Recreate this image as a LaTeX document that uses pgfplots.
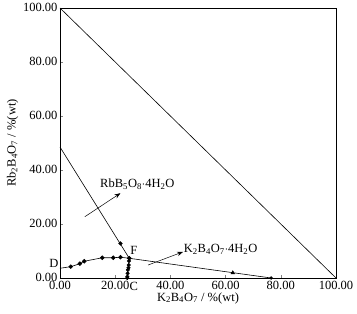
\documentclass[border=0pt]{standalone}
\usepackage{pgfplots}
\pgfplotsset{compat=1.18}
\usepackage{fontspec}
\setmainfont{Liberation Serif}
\usetikzlibrary{arrows.meta}
\begin{document}
\begin{tikzpicture}
\useasboundingbox (-60pt,-36pt) rectangle (297pt,278pt);
\begin{axis}[
  scale only axis, width=276pt, height=270pt,
  xmin=0, xmax=100, ymin=0, ymax=100,
  xtick={0,20,40,60,80,100}, ytick={0,20,40,60,80,100},
  tick align=inside, xtick pos=bottom, ytick pos=left,
  major tick length=3pt,
  /pgf/number format/assume math mode=true,
  /pgf/number format/.cd, fixed, fixed zerofill, precision=2, /pgfplots/.cd,
  tick label style={font=\fontsize{12.5}{13}\selectfont},
  xticklabel style={yshift=-1.5pt, inner ysep=1pt},
  yticklabel style={xshift=1pt, yshift=0.5pt, inner ysep=1pt},
  label style={font=\fontsize{12.5}{13}\selectfont},
  xlabel={K\textsubscript{2}B\textsubscript{4}O\textsubscript{7} / \%(wt)},
  ylabel={Rb\textsubscript{2}B\textsubscript{4}O\textsubscript{7} / \%(wt)},
  xlabel style={yshift=-1pt, inner ysep=1pt},
  ylabel style={yshift=-2pt},
  axis line style={line width=0.8pt},
  clip=false,
]
\addplot[black, mark=none, line width=0.6pt] coordinates {(0,100) (100,0)};
\addplot[black, line width=0.6pt, mark=*, mark size=1.9pt, mark indices={2,3,4,5,6,7,8}] coordinates {
 (0,3.6) (3.9,4.2) (7.2,5.3) (8.8,6.2) (15.3,7.5) (19.3,7.5) (21.9,7.7) (25.1,7.3)};
\addplot[black, line width=0.6pt, mark=*, mark size=1.7pt] coordinates {
 (25.1,7.3) (25.0,6.3) (24.9,4.8) (24.8,3.8) (24.6,3.0) (24.5,1.7) (24.4,0.5) (24.4,0)};
\addplot[black, line width=0.6pt, mark=none] coordinates {(0,48.5) (25.1,7.3)};
\addplot[black, only marks, mark=*, mark size=1.9pt] coordinates {(21.9,12.8)};
\addplot[black, line width=0.6pt, mark=none] coordinates {(25.1,7.3) (76.5,0)};
\addplot[black, only marks, mark=triangle*, mark size=2.2pt] coordinates {(62.6,1.9)};
\addplot[black, only marks, mark=*, mark size=1.5pt] coordinates {(76.5,0)};
\addplot[black, line width=0.5pt, -{Stealth[length=6pt,width=4.5pt]}] coordinates {(9.0,22.7) (21.9,31.4)};
\addplot[black, line width=0.5pt, -{Stealth[length=6pt,width=4.5pt]}] coordinates {(31.9,4.8) (44.6,9.7)};
\node[anchor=west, font=\fontsize{12.5}{13}\selectfont, inner sep=0pt] at (axis cs:14.5,34.7) {RbB\textsubscript{5}O\textsubscript{8}$\cdot$4H\textsubscript{2}O};
\node[anchor=west, font=\fontsize{12.5}{13}\selectfont, inner sep=0pt] at (axis cs:44.8,10.6) {K\textsubscript{2}B\textsubscript{4}O\textsubscript{7}$\cdot$4H\textsubscript{2}O};
\node[font=\fontsize{12.5}{13}\selectfont, inner sep=0pt] at (axis cs:26.8,10.4) {F};
\node[font=\fontsize{12.5}{13}\selectfont, inner sep=0pt] at (axis cs:-2.2,5.4) {D};
\node[font=\fontsize{12.5}{13}\selectfont, inner sep=0pt] at (axis cs:26.7,-3.2) {C};
\end{axis}
\end{tikzpicture}
\end{document}
